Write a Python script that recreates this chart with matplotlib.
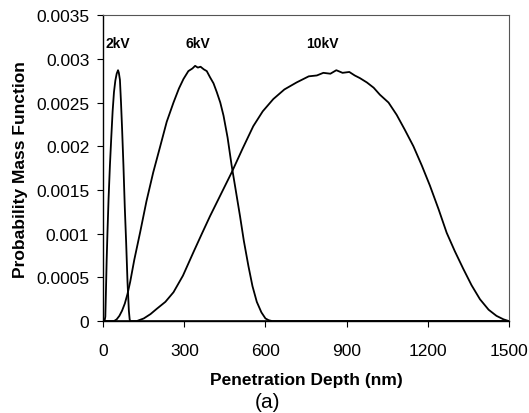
import matplotlib.pyplot as plt

plt.rcParams['font.family'] = ['Liberation Sans', 'DejaVu Sans']

# penetration depth (nm) and probability mass
depth_2kv = [0, 5, 8, 10, 13, 16, 20, 25, 30, 35, 40, 45, 50, 55, 58, 62, 66, 70,
             75, 80, 85, 90, 95, 98, 100, 1500]
pmf_2kv = [0, 0, 0.00005, 0.0003, 0.0007, 0.00102, 0.0014, 0.00178, 0.0021, 0.0024,
           0.00262, 0.00275, 0.00283, 0.00287, 0.00284, 0.00276, 0.0025, 0.0022,
           0.00178, 0.0013, 0.0009, 0.00045, 0.00012, 0.00002, 0, 0]

depth_6kv = [0, 40, 50, 60, 70, 80, 90, 100, 115, 137, 160, 185, 211, 235, 260, 280,
             297, 315, 330, 340, 350, 360, 372, 383, 395, 408, 420, 433, 445, 460,
             475, 490, 506, 520, 537, 552, 568, 585, 600, 612, 625, 1500]
pmf_6kv = [0, 0, 0.00002, 0.00006, 0.00012, 0.0002, 0.00031, 0.00045, 0.0007,
           0.00102, 0.00137, 0.0017, 0.002, 0.00228, 0.0025, 0.00266, 0.00277,
           0.00286, 0.00289, 0.00292, 0.0029, 0.00291, 0.00288, 0.00286, 0.00279,
           0.00272, 0.00262, 0.0025, 0.00235, 0.0021, 0.00178, 0.0015, 0.0012,
           0.00092, 0.00063, 0.0004, 0.00022, 0.0001, 0.00003, 0.00001, 0, 0]

depth_10kv = [0, 100, 124, 150, 175, 198, 230, 260, 295, 334, 365, 395, 435, 475,
              515, 555, 590, 629, 670, 715, 760, 790, 814, 840, 862, 885, 910,
              930, 949, 975, 1000, 1023, 1055, 1085, 1115, 1147, 1178, 1208,
              1240, 1270, 1300, 1331, 1362, 1393, 1425, 1454, 1480, 1500]
pmf_10kv = [0, 0, 0, 0.00003, 0.00008, 0.00014, 0.00022, 0.00033, 0.00052,
            0.00079, 0.001, 0.0012, 0.00145, 0.0017, 0.00197, 0.00223, 0.0024,
            0.00254, 0.00265, 0.00273, 0.0028, 0.00281, 0.00284, 0.00283, 0.00287,
            0.00284, 0.00285, 0.00281, 0.00278, 0.00273, 0.00267, 0.00259,
            0.0025, 0.00236, 0.00219, 0.002, 0.00178, 0.00155, 0.00128, 0.00101,
            0.0008, 0.0006, 0.00041, 0.00025, 0.00013, 0.00006, 0.00002, 0]

labels = ['2kV', '6kV', '10kV']
label_x = [55, 351, 809]
label_y = 0.00318

fig = plt.figure(figsize=(5.29, 4.14), dpi=100)
ax = fig.add_axes([0.195, 0.222, 0.767, 0.739])

ax.plot(depth_2kv, pmf_2kv, color='black', lw=1.3)
ax.plot(depth_6kv, pmf_6kv, color='black', lw=1.3)
ax.plot(depth_10kv, pmf_10kv, color='black', lw=1.3)

for lab, x in zip(labels, label_x):
    ax.text(x, label_y, lab, ha='center', va='center', fontsize=10, fontweight='bold')

ax.set_xlim(0, 1500)
ax.set_ylim(0, 0.0035)
ax.set_xticks([0, 300, 600, 900, 1200, 1500])
ax.set_yticks([0, 0.0005, 0.001, 0.0015, 0.002, 0.0025, 0.003, 0.0035])
ax.set_yticklabels(['0', '0.0005', '0.001', '0.0015', '0.002', '0.0025', '0.003', '0.0035'])
ax.tick_params(labelsize=12.5, length=4, width=0.8, direction='out')
ax.tick_params(axis='y', pad=6)
ax.tick_params(axis='x', pad=12)

for side in ['top', 'right']:
    ax.spines[side].set_color('#555555')
    ax.spines[side].set_linewidth(0.8)
for side in ['left', 'bottom']:
    ax.spines[side].set_linewidth(1.0)

ax.set_xlabel('Penetration Depth (nm)', fontsize=12.5, fontweight='bold', labelpad=10)
ax.set_ylabel('Probability Mass Function', fontsize=12.5, fontweight='bold', labelpad=6)
fig.text(0.505, 0.027, '(a)', ha='center', va='center', fontsize=15)

fig.savefig('out.png', dpi=100)
